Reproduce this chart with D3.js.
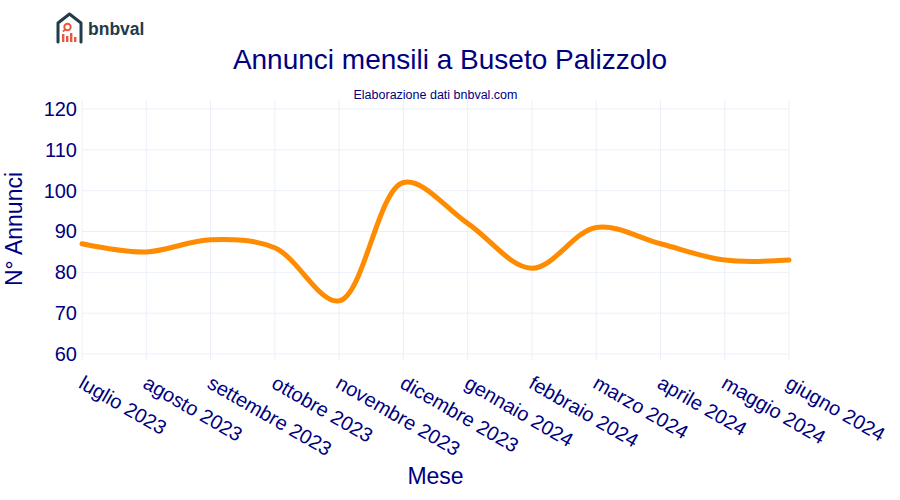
<!DOCTYPE html>
<html>
<head>
<meta charset="utf-8">
<script src="https://cdn.jsdelivr.net/npm/d3@7"></script>
<style>
  html, body { margin: 0; padding: 0; background: #fff; }
  svg { display: block; font-family: "Liberation Sans", Arial, Helvetica, sans-serif; }
</style>
</head>
<body>
<svg id="chart" width="900" height="500"></svg>
<script>
// ---- data ----
const months = ["luglio 2023","agosto 2023","settembre 2023","ottobre 2023","novembre 2023","dicembre 2023",
                "gennaio 2024","febbraio 2024","marzo 2024","aprile 2024","maggio 2024","giugno 2024"];
const annunci = [87, 85, 88, 86, 73, 102, 92, 81, 91, 87, 83, 83];
const yTicks = [60, 70, 80, 90, 100, 110, 120];
const titleText = "Annunci mensili a Buseto Palizzolo";
const subtitleText = "Elaborazione dati bnbval.com";
const xTitle = "Mese";
const yTitle = "N° Annunci";

// ---- layout ----
const W = 900, H = 500;
const plot = { left: 82, right: 789, top: 100, bottom: 360 };
const textColor = "#00007f";
const gridColor = "#ebf0f8";
const lineColor = "#ff8c00";

const svg = d3.select("#chart");

const x = d3.scalePoint().domain(months).range([plot.left, plot.right]);
const y = d3.scaleLinear().domain([58.53, 122.2]).range([plot.bottom, plot.top]);

// grid
const grid = svg.append("g");
grid.selectAll("line.v").data(months).join("line")
  .attr("x1", d => x(d)).attr("x2", d => x(d))
  .attr("y1", plot.top).attr("y2", plot.bottom)
  .attr("stroke", gridColor).attr("stroke-width", 1);
grid.selectAll("line.h").data(yTicks).join("line")
  .attr("x1", plot.left).attr("x2", plot.right)
  .attr("y1", d => y(d)).attr("y2", d => y(d))
  .attr("stroke", gridColor).attr("stroke-width", 1);

// y axis
const yAxis = d3.axisLeft(y).tickValues(yTicks).tickSize(0).tickPadding(5);
const gy = svg.append("g").attr("transform", `translate(${plot.left},0)`).call(yAxis);
gy.select(".domain").remove();
gy.selectAll("text").attr("font-size", 20).attr("fill", textColor)
  .attr("font-family", "'Liberation Sans', Arial, sans-serif");

// x axis (rotated labels)
const xAxis = d3.axisBottom(x).tickSize(0);
const gx = svg.append("g").attr("transform", `translate(0,${plot.bottom})`).call(xAxis);
gx.select(".domain").remove();
gx.selectAll(".tick text")
  .attr("font-size", 20).attr("fill", textColor)
  .attr("font-family", "'Liberation Sans', Arial, sans-serif")
  .attr("text-anchor", "start")
  .attr("dy", 0).attr("y", 0)
  .attr("transform", "translate(-5,27) rotate(30)");

// plotly-style spline
function makeTangent(p0, p1, p2, s) {
  const d1x = p0[0] - p1[0], d1y = p0[1] - p1[1];
  const d2x = p2[0] - p1[0], d2y = p2[1] - p1[1];
  const d1a = Math.pow(d1x * d1x + d1y * d1y, 0.25);
  const d2a = Math.pow(d2x * d2x + d2y * d2y, 0.25);
  const numx = (d2a * d2a * d1x - d1a * d1a * d2x) * s;
  const numy = (d2a * d2a * d1y - d1a * d1a * d2y) * s;
  const den1 = 3 * d2a * (d1a + d2a), den2 = 3 * d1a * (d1a + d2a);
  return [[p1[0] + (den1 && numx / den1), p1[1] + (den1 && numy / den1)],
          [p1[0] - (den2 && numx / den2), p1[1] - (den2 && numy / den2)]];
}
function splinePath(pts, s) {
  const p = d3.path();
  p.moveTo(pts[0][0], pts[0][1]);
  const t = [];
  for (let i = 1; i < pts.length - 1; i++) t.push(makeTangent(pts[i-1], pts[i], pts[i+1], s));
  p.quadraticCurveTo(t[0][0][0], t[0][0][1], pts[1][0], pts[1][1]);
  for (let i = 2; i < pts.length - 1; i++) {
    p.bezierCurveTo(t[i-2][1][0], t[i-2][1][1], t[i-1][0][0], t[i-1][0][1], pts[i][0], pts[i][1]);
  }
  const tl = t[pts.length - 3][1];
  p.quadraticCurveTo(tl[0], tl[1], pts[pts.length-1][0], pts[pts.length-1][1]);
  return p.toString();
}
const pts = months.map((m, i) => [x(m), y(annunci[i])]);
svg.append("path")
  .attr("d", splinePath(pts, 1))
  .attr("fill", "none").attr("stroke", lineColor)
  .attr("stroke-width", 5).attr("stroke-linejoin", "round").attr("stroke-linecap", "round");

// titles
svg.append("text").attr("x", 450).attr("y", 69).attr("text-anchor", "middle")
  .attr("font-size", 28).attr("fill", textColor).text(titleText);
svg.append("text").attr("x", (plot.left + plot.right) / 2).attr("y", 99).attr("text-anchor", "middle")
  .attr("font-size", 12.5).attr("fill", textColor).text(subtitleText);
svg.append("text").attr("x", (plot.left + plot.right) / 2).attr("y", 484).attr("text-anchor", "middle")
  .attr("font-size", 23).attr("fill", textColor).text(xTitle);
svg.append("text").attr("transform", "translate(22,229) rotate(-90)").attr("text-anchor", "middle")
  .attr("font-size", 23).attr("fill", textColor).text(yTitle);

// logo
const logo = svg.append("g").attr("transform", "translate(56,12)");
logo.append("path")
  .attr("d", "M2,30 L2,11 L13.5,2 L25,11 L25,30")
  .attr("fill", "none").attr("stroke", "#243b4a").attr("stroke-width", 3)
  .attr("stroke-linejoin", "round").attr("stroke-linecap", "round");
logo.append("circle").attr("cx", 11.5).attr("cy", 15).attr("r", 3.2)
  .attr("fill", "none").attr("stroke", "#e8573f").attr("stroke-width", 2);
logo.append("line").attr("x1", 9.2).attr("y1", 17.4).attr("x2", 7).attr("y2", 19.6)
  .attr("stroke", "#e8573f").attr("stroke-width", 2);
[[6,22,8],[10,24,6],[14,21,9],[18,25,5]].forEach(b => {
  logo.append("rect").attr("x", b[0]).attr("y", b[1]).attr("width", 2.4).attr("height", b[2]).attr("fill", "#e8573f");
});
svg.append("text").attr("x", 88).attr("y", 35).attr("font-size", 17.5).attr("font-weight", "bold")
  .attr("fill", "#243b4a").text("bnbval");
</script>
</body>
</html>
